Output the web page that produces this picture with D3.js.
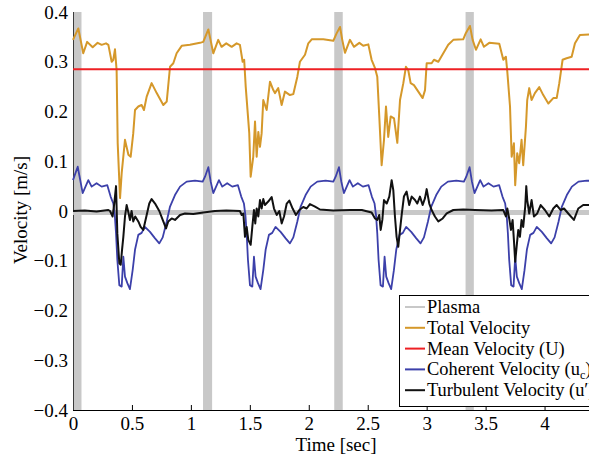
<!DOCTYPE html>
<html>
<head>
<meta charset="utf-8">
<script src="https://cdn.jsdelivr.net/npm/d3@7"></script>
<style>
  body { margin: 0; background: #fff; }
  svg { display: block; }
</style>
</head>
<body>
<svg id="chart" width="589" height="458"></svg>
<script>
// values: [time (s), velocity (m/s)]
const totalVel = [[0.0,0.344],[0.045,0.367],[0.087,0.317],[0.12,0.34],[0.167,0.329],[0.209,0.338],[0.243,0.334],[0.28,0.337],[0.30,0.334],[0.328,0.30],[0.342,0.304],[0.356,0.325],[0.37,0.283],[0.379,0.137],[0.399,0.026],[0.413,0.076],[0.441,0.143],[0.47,0.113],[0.489,0.109],[0.511,0.156],[0.526,0.203],[0.554,0.21],[0.582,0.213],[0.602,0.203],[0.625,0.23],[0.667,0.257],[0.71,0.237],[0.766,0.213],[0.795,0.22],[0.823,0.29],[0.851,0.297],[0.879,0.317],[0.922,0.332],[0.992,0.334],[1.077,0.338],[1.105,0.34],[1.148,0.365],[1.19,0.317],[1.232,0.344],[1.26,0.33],[1.3,0.337],[1.346,0.33],[1.388,0.337],[1.416,0.334],[1.439,0.30],[1.452,0.304],[1.465,0.25],[1.495,0.157],[1.507,0.069],[1.529,0.109],[1.544,0.18],[1.558,0.109],[1.572,0.159],[1.586,0.129],[1.6,0.156],[1.614,0.223],[1.643,0.203],[1.671,0.26],[1.699,0.243],[1.713,0.237],[1.741,0.247],[1.77,0.213],[1.798,0.24],[1.84,0.233],[1.869,0.235],[1.903,0.27],[1.925,0.30],[1.968,0.314],[1.996,0.337],[2.025,0.345],[2.123,0.345],[2.208,0.342],[2.236,0.357],[2.265,0.37],[2.284,0.344],[2.307,0.318],[2.349,0.344],[2.383,0.33],[2.429,0.338],[2.462,0.332],[2.505,0.335],[2.533,0.304],[2.562,0.287],[2.581,0.27],[2.598,0.19],[2.618,0.092],[2.638,0.143],[2.655,0.21],[2.674,0.149],[2.695,0.19],[2.723,0.186],[2.751,0.137],[2.774,0.223],[2.802,0.257],[2.824,0.29],[2.844,0.283],[2.864,0.257],[2.892,0.253],[2.929,0.24],[2.966,0.227],[2.986,0.243],[3.0,0.297],[3.042,0.297],[3.062,0.304],[3.099,0.30],[3.141,0.317],[3.183,0.334],[3.226,0.344],[3.31,0.345],[3.333,0.358],[3.367,0.372],[3.39,0.344],[3.418,0.324],[3.458,0.345],[3.486,0.33],[3.531,0.338],[3.616,0.336],[3.65,0.304],[3.672,0.31],[3.684,0.28],[3.707,0.21],[3.721,0.109],[3.74,0.136],[3.751,0.052],[3.768,0.116],[3.785,0.096],[3.805,0.143],[3.819,0.092],[3.842,0.169],[3.853,0.223],[3.87,0.247],[3.89,0.223],[3.918,0.237],[3.955,0.249],[3.989,0.233],[4.032,0.216],[4.074,0.227],[4.103,0.227],[4.125,0.257],[4.153,0.304],[4.187,0.307],[4.23,0.31],[4.258,0.337],[4.3,0.354],[4.377,0.355],[4.45,0.355]];

const meanVel = 0.285;

const coherentVel = [[0.0,0.062],[0.04,0.089],[0.082,0.036],[0.13,0.062],[0.158,0.049],[0.2,0.056],[0.243,0.049],[0.291,0.052],[0.319,0.029],[0.342,0.015],[0.355,-0.01],[0.365,-0.045],[0.376,-0.098],[0.393,-0.149],[0.413,-0.152],[0.427,-0.092],[0.441,-0.132],[0.461,-0.145],[0.483,-0.157],[0.506,-0.119],[0.526,-0.078],[0.554,-0.048],[0.582,-0.044],[0.61,-0.032],[0.653,-0.042],[0.696,-0.055],[0.732,-0.065],[0.761,-0.053],[0.795,-0.021],[0.823,0.009],[0.865,0.032],[0.908,0.049],[0.964,0.059],[1.035,0.061],[1.1,0.059],[1.12,0.069],[1.148,0.088],[1.168,0.059],[1.19,0.036],[1.238,0.062],[1.266,0.049],[1.308,0.056],[1.351,0.049],[1.399,0.052],[1.427,0.029],[1.45,0.015],[1.463,-0.01],[1.473,-0.045],[1.484,-0.098],[1.501,-0.149],[1.521,-0.152],[1.535,-0.092],[1.549,-0.132],[1.569,-0.145],[1.591,-0.157],[1.614,-0.119],[1.634,-0.078],[1.662,-0.048],[1.69,-0.044],[1.718,-0.032],[1.761,-0.042],[1.804,-0.055],[1.84,-0.065],[1.869,-0.053],[1.903,-0.021],[1.931,0.009],[1.973,0.032],[2.016,0.049],[2.072,0.059],[2.143,0.061],[2.208,0.059],[2.228,0.069],[2.256,0.088],[2.276,0.059],[2.298,0.036],[2.346,0.062],[2.374,0.049],[2.416,0.056],[2.459,0.049],[2.507,0.052],[2.535,0.029],[2.558,0.015],[2.571,-0.01],[2.581,-0.045],[2.592,-0.098],[2.609,-0.149],[2.629,-0.152],[2.643,-0.092],[2.657,-0.132],[2.677,-0.145],[2.699,-0.157],[2.722,-0.119],[2.742,-0.078],[2.77,-0.048],[2.798,-0.044],[2.826,-0.032],[2.869,-0.042],[2.912,-0.055],[2.948,-0.065],[2.977,-0.053],[3.011,-0.021],[3.039,0.009],[3.081,0.032],[3.124,0.049],[3.18,0.059],[3.251,0.061],[3.316,0.059],[3.336,0.069],[3.364,0.088],[3.384,0.059],[3.406,0.036],[3.454,0.062],[3.482,0.049],[3.524,0.056],[3.567,0.049],[3.615,0.052],[3.643,0.029],[3.666,0.015],[3.679,-0.01],[3.689,-0.045],[3.7,-0.098],[3.717,-0.149],[3.737,-0.152],[3.751,-0.092],[3.765,-0.132],[3.785,-0.145],[3.807,-0.157],[3.83,-0.119],[3.85,-0.078],[3.878,-0.048],[3.906,-0.044],[3.934,-0.032],[3.977,-0.042],[4.02,-0.055],[4.056,-0.065],[4.085,-0.053],[4.119,-0.021],[4.147,0.009],[4.189,0.032],[4.232,0.049],[4.288,0.059],[4.359,0.061],[4.45,0.06]];

const turbulentVel = [[0,0.0],[0.1,0.001],[0.2,-0.001],[0.3,0.002],[0.314,0.0],[0.336,-0.011],[0.35,0.015],[0.365,0.05],[0.376,-0.045],[0.393,-0.105],[0.405,-0.108],[0.416,-0.078],[0.427,-0.052],[0.441,-0.011],[0.455,0.012],[0.472,-0.005],[0.483,-0.018],[0.497,0.0],[0.511,-0.021],[0.528,-0.011],[0.554,-0.021],[0.574,-0.032],[0.596,-0.038],[0.625,-0.008],[0.647,0.015],[0.667,0.024],[0.696,0.015],[0.732,0.0],[0.761,-0.018],[0.789,-0.035],[0.808,-0.021],[0.837,-0.015],[0.865,-0.018],[0.908,-0.008],[0.95,-0.005],[1.02,-0.006],[1.105,-0.003],[1.204,0.0],[1.3,0.001],[1.416,0.0],[1.431,-0.008],[1.445,-0.005],[1.459,-0.052],[1.473,-0.032],[1.487,-0.058],[1.507,-0.068],[1.521,-0.032],[1.535,0.002],[1.546,-0.025],[1.558,0.005],[1.572,-0.011],[1.586,0.022],[1.6,0.005],[1.614,0.024],[1.628,0.012],[1.656,0.019],[1.685,0.028],[1.705,0.005],[1.728,-0.008],[1.75,0.0],[1.77,-0.025],[1.79,-0.011],[1.813,0.015],[1.835,0.021],[1.863,0.005],[1.891,-0.008],[1.92,0.002],[1.953,0.008],[1.982,0.005],[2.01,0.014],[2.053,0.009],[2.095,0.003],[2.208,0.001],[2.35,0.002],[2.45,0.002],[2.533,-0.003],[2.562,-0.015],[2.581,-0.018],[2.598,-0.008],[2.61,-0.038],[2.624,-0.018],[2.638,0.022],[2.661,0.015],[2.683,0.029],[2.703,0.062],[2.717,0.042],[2.731,-0.011],[2.745,-0.052],[2.759,-0.072],[2.774,-0.038],[2.788,-0.008],[2.807,0.029],[2.83,0.039],[2.852,0.012],[2.873,0.029],[2.901,0.022],[2.92,0.015],[2.943,0.029],[2.966,0.012],[2.986,0.026],[3.0,0.044],[3.022,0.015],[3.042,0.002],[3.07,-0.011],[3.099,-0.021],[3.136,-0.015],[3.17,-0.005],[3.226,0.002],[3.31,0.003],[3.41,0.002],[3.55,0.001],[3.65,0.002],[3.672,-0.011],[3.684,0.005],[3.7,-0.015],[3.715,-0.038],[3.729,-0.018],[3.74,-0.058],[3.751,-0.102],[3.763,-0.072],[3.777,-0.038],[3.791,-0.052],[3.805,-0.018],[3.819,-0.032],[3.836,0.009],[3.845,0.05],[3.853,0.022],[3.87,-0.005],[3.89,0.022],[3.91,-0.011],[3.938,-0.005],[3.967,0.012],[4.003,0.002],[4.04,-0.011],[4.074,0.005],[4.103,0.012],[4.137,0.002],[4.165,0.005],[4.201,-0.005],[4.249,-0.018],[4.286,0.005],[4.328,0.012],[4.45,0.012]];

// plasma on intervals [start, end] and its off level
const plasmaPulses = [[0.006, 0.072], [1.103, 1.18], [2.216, 2.288], [3.33, 3.40]];
const plasmaBase = -0.003;

const xTicks = [0, 0.5, 1, 1.5, 2, 2.5, 3, 3.5, 4];
const yTicks = [-0.4, -0.3, -0.2, -0.1, 0, 0.1, 0.2, 0.3, 0.4];

const legendItems = [
  { label: 'Plasma', color: '#c8c8c8' },
  { label: 'Total Velocity', color: '#d5982a' },
  { label: 'Mean Velocity (U)', color: '#ee2024' },
  { label: 'Coherent Velocity (u', sub: 'c', tail: ')', color: '#3c40aa' },
  { label: 'Turbulent Velocity (u\u2032)', color: '#111111' }
];

const FONT = 'Liberation Serif';
const FS = 19;
const LEGEND_FS = 18.4;

const svg = d3.select('#chart');
const x = d3.scaleLinear().domain([0, 4.5]).range([73, 603.5]);
const y = d3.scaleLinear().domain([-0.4, 0.4]).range([410, 12]);

const line = d3.line().x(d => x(d[0])).y(d => y(d[1]));
const fmt = d => d === 0 ? '0' : d3.format('.1f')(d).replace('-', '\u2212');
const fmtX = d => String(d);

// axes (ticks point inward)
const xAxis = svg.append('g')
  .attr('transform', `translate(0,${y(-0.4)})`)
  .call(d3.axisBottom(x).tickValues(xTicks).tickFormat(fmtX).tickSizeInner(-5).tickSizeOuter(0).tickPadding(6.5));
const yAxis = svg.append('g')
  .attr('transform', `translate(${x(0)},0)`)
  .call(d3.axisLeft(y).tickValues(yTicks).tickFormat(fmt).tickSizeInner(-5).tickSizeOuter(0).tickPadding(5));
[xAxis, yAxis].forEach(g => {
  g.attr('font-family', FONT).attr('font-size', FS);
  g.selectAll('text').attr('font-family', FONT).attr('font-size', FS).attr('fill', '#000');
  g.selectAll('line, path').attr('stroke', '#000').attr('stroke-width', 1);
});

// plasma
svg.append('g').selectAll('rect')
  .data(plasmaPulses)
  .enter()
  .append('rect')
  .attr('x', d => x(d[0]))
  .attr('width', d => x(d[1]) - x(d[0]))
  .attr('y', y(0.4))
  .attr('height', y(-0.4) - y(0.4))
  .attr('fill', '#c8c8c8');
svg.append('line')
  .attr('x1', x(0)).attr('x2', x(4.5))
  .attr('y1', y(plasmaBase)).attr('y2', y(plasmaBase))
  .attr('stroke', '#c8c8c8').attr('stroke-width', 5);

const drawSeries = (data, color, width) => {
  svg.append('path')
    .datum(data)
    .attr('d', line)
    .attr('fill', 'none')
    .attr('stroke', color)
    .attr('stroke-width', width)
    .attr('stroke-linejoin', 'round');
};

drawSeries(totalVel, legendItems[1].color, 2);
svg.append('line')
  .attr('x1', x(0)).attr('x2', x(4.5))
  .attr('y1', y(meanVel)).attr('y2', y(meanVel))
  .attr('stroke', legendItems[2].color).attr('stroke-width', 2);
drawSeries(coherentVel, legendItems[3].color, 1.8);
drawSeries(turbulentVel, legendItems[4].color, 2);

// axis titles
svg.append('text')
  .attr('x', 336).attr('y', 451)
  .attr('text-anchor', 'middle')
  .attr('font-family', FONT).attr('font-size', FS)
  .text('Time [sec]');
svg.append('text')
  .attr('transform', 'translate(27,210) rotate(-90)')
  .attr('text-anchor', 'middle')
  .attr('font-family', FONT).attr('font-size', FS)
  .text('Velocity [m/s]');

// legend
const legend = svg.append('g');
legend.append('rect')
  .attr('x', 399.5).attr('y', 295.5)
  .attr('width', 230).attr('height', 111)
  .attr('fill', '#fff').attr('stroke', '#000').attr('stroke-width', 1);
legendItems.forEach((item, i) => {
  const cy = 307 + i * 20.8;
  legend.append('line')
    .attr('x1', 405).attr('x2', 425)
    .attr('y1', cy).attr('y2', cy)
    .attr('stroke', item.color).attr('stroke-width', 2);
  const t = legend.append('text')
    .attr('x', 427).attr('y', cy + 6)
    .attr('font-family', FONT).attr('font-size', LEGEND_FS);
  t.append('tspan').text(item.label);
  if (item.sub) {
    t.append('tspan').attr('font-size', 12).attr('dy', 4).text(item.sub);
    t.append('tspan').attr('dy', -4).attr('font-size', LEGEND_FS).text(item.tail);
  }
});
</script>
</body>
</html>
